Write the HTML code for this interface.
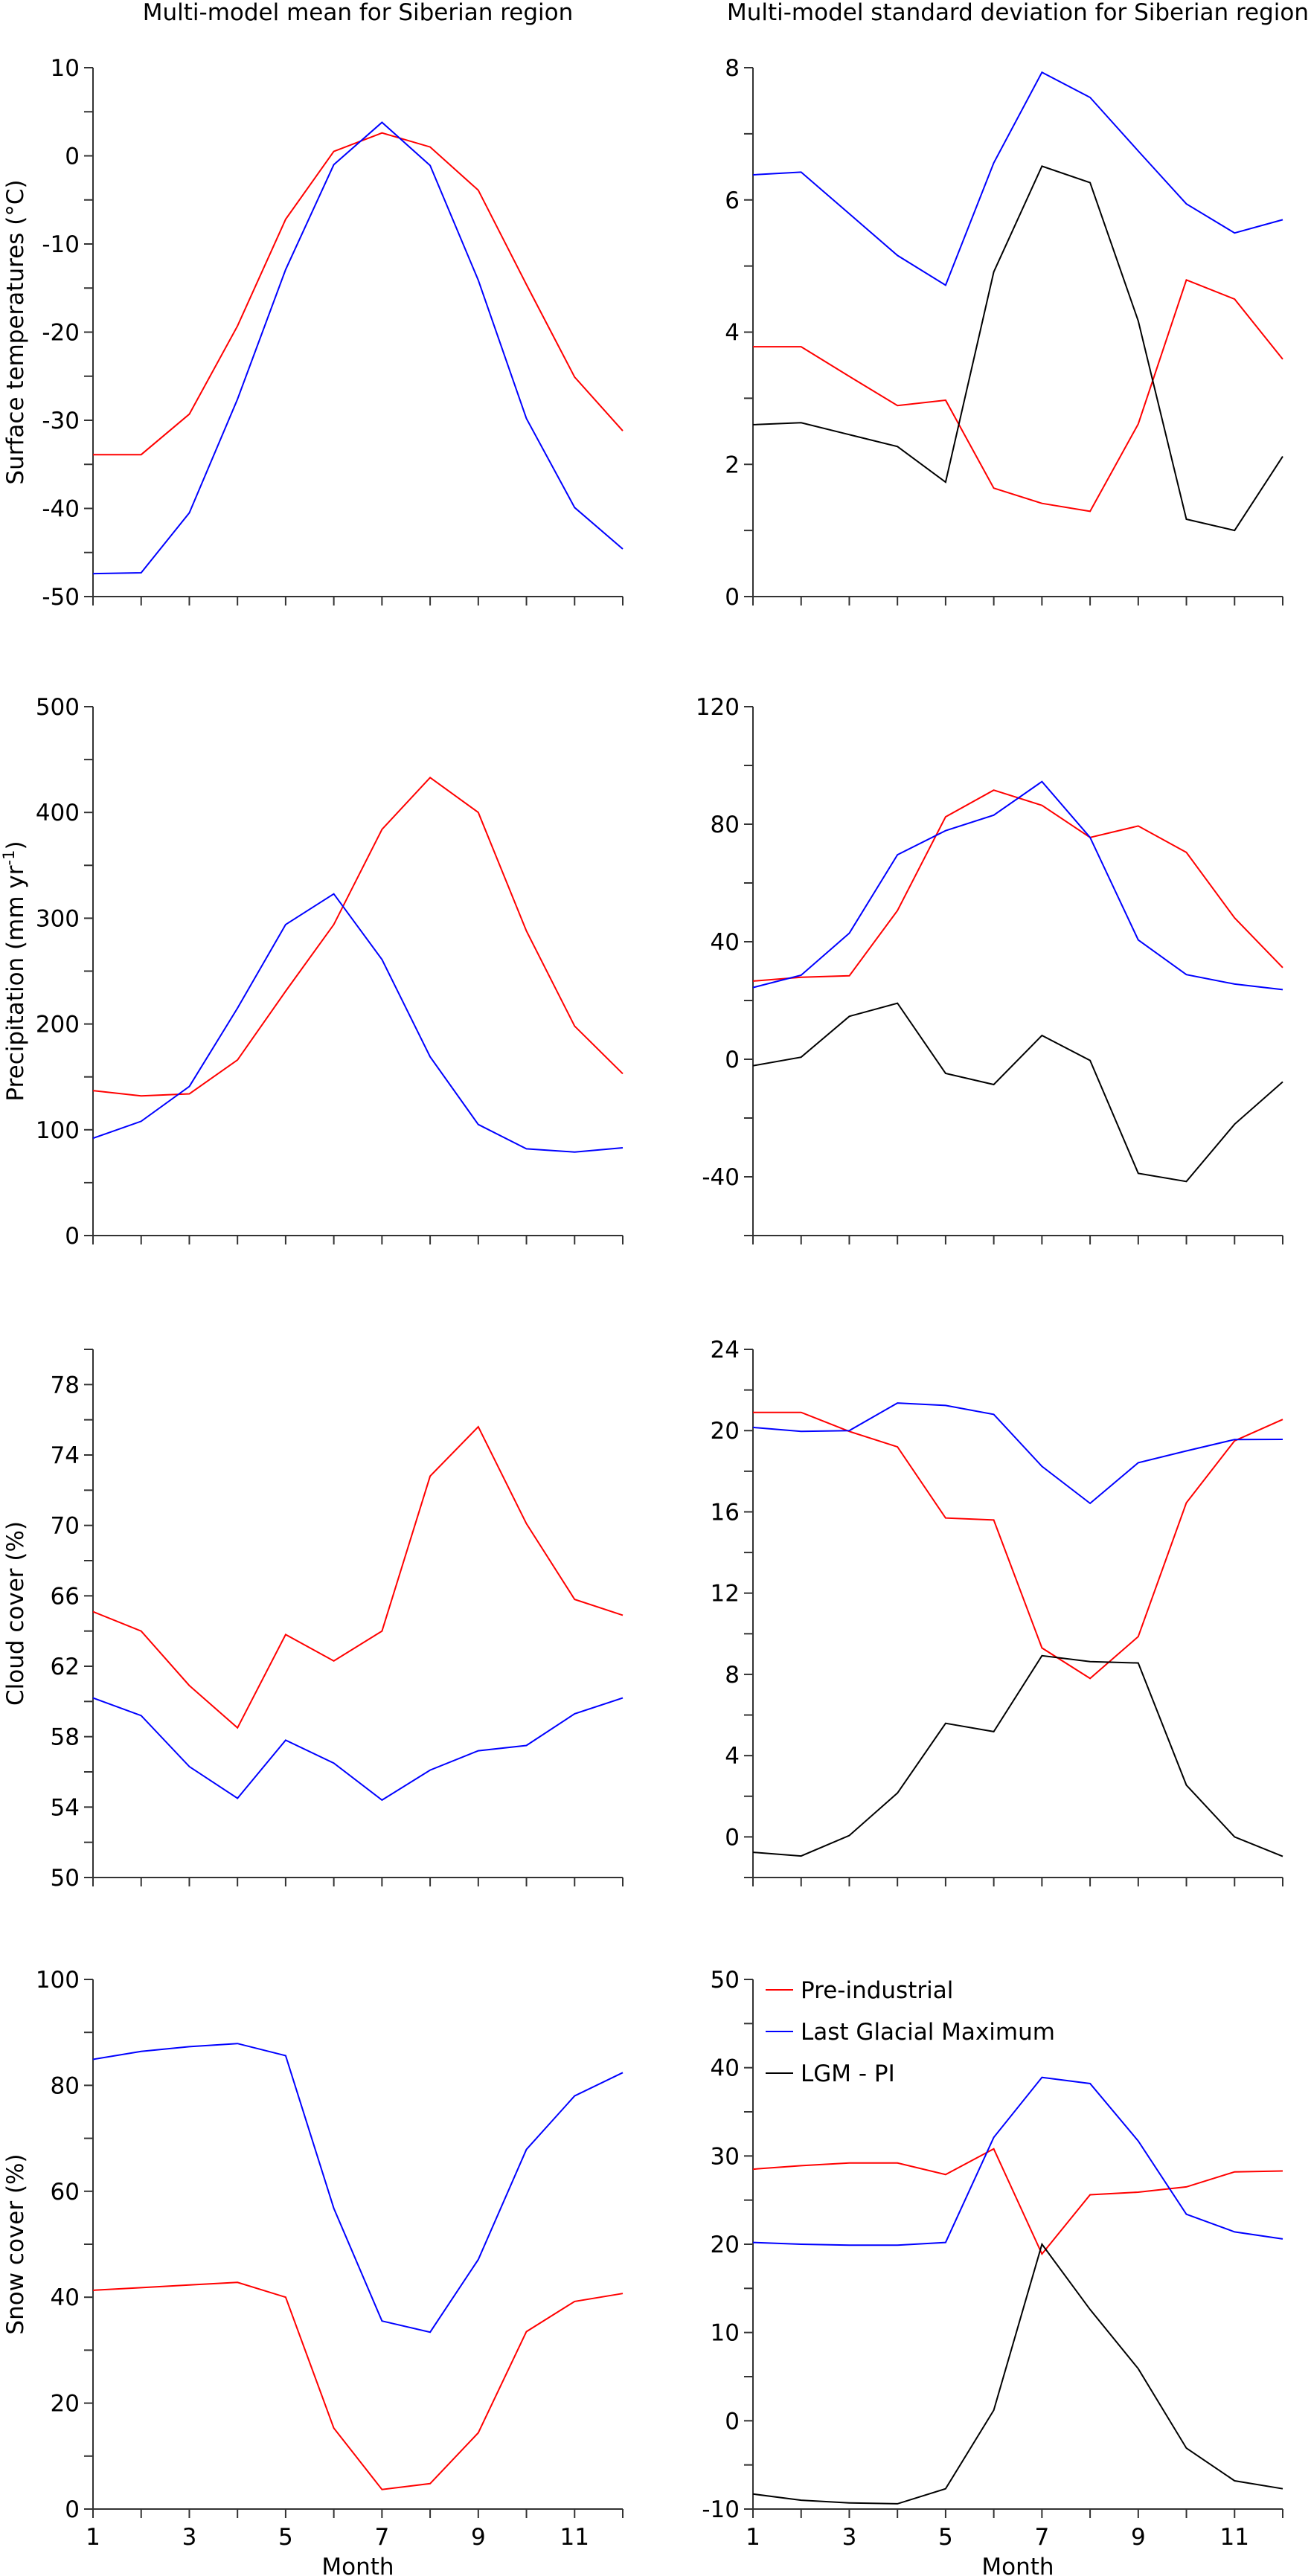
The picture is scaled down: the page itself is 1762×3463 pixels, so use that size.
<!DOCTYPE html>
<html><head><meta charset="utf-8"><style>
html,body{margin:0;padding:0;background:#fff;}
svg{display:block;font-family:"DejaVu Sans","Liberation Sans",sans-serif;}
</style></head><body>
<svg id="fig" width="1762" height="3463" viewBox="0 0 1762 3463" xmlns="http://www.w3.org/2000/svg">
<text x="481" y="27" font-size="31" text-anchor="middle">Multi-model mean for Siberian region</text>
<text x="1368" y="27" font-size="31" text-anchor="middle">Multi-model standard deviation for Siberian region</text>
<text x="481" y="3461" font-size="31" text-anchor="middle">Month</text>
<text x="1368" y="3461" font-size="31" text-anchor="middle">Month</text>
<g>
<line x1="1029" y1="2675" x2="1066" y2="2675" stroke="#ff0000" stroke-width="2"/>
<text x="1076" y="2686" font-size="31">Pre-industrial</text>
<line x1="1029" y1="2731" x2="1066" y2="2731" stroke="#0000ff" stroke-width="2"/>
<text x="1076" y="2742" font-size="31">Last Glacial Maximum</text>
<line x1="1029" y1="2787" x2="1066" y2="2787" stroke="#000" stroke-width="2"/>
<text x="1076" y="2798" font-size="31">LGM - PI</text>
</g>
</svg>
<script>
const months = [1,2,3,4,5,6,7,8,9,10,11,12];
const tempMeanPI  = [-33.9,-33.9,-29.3,-19.3,-7.2,0.5,2.6,1.0,-3.9,-14.6,-25.1,-31.2];
const tempMeanLGM = [-47.4,-47.3,-40.5,-27.6,-12.9,-1.0,3.8,-1.1,-14.1,-29.8,-39.9,-44.6];
const tempSdPI    = [3.78,3.78,3.33,2.89,2.97,1.64,1.41,1.29,2.61,4.79,4.50,3.59];
const tempSdLGM   = [6.38,6.42,5.79,5.16,4.71,6.56,7.93,7.55,6.74,5.94,5.50,5.70];
const tempSdDiff  = [2.60,2.63,2.45,2.27,1.73,4.91,6.51,6.26,4.17,1.17,1.00,2.12];
const precMeanPI  = [137,132,134,166,231,294,384,433,400,288,198,153];
const precMeanLGM = [92,108,141,215,294,323,261,169,105,82,79,83];
const precSdPI    = [26.6,27.9,28.4,50.6,82.5,91.6,86.4,75.5,79.4,70.4,48.1,31.2];
const precSdLGM   = [24.4,28.6,42.9,69.6,77.8,83.1,94.5,75.5,40.6,28.8,25.6,23.7];
const precSdDiff  = [-2.2,0.7,14.6,19.1,-4.8,-8.6,8.1,-0.4,-38.8,-41.6,-22.1,-7.7];
const cloudMeanPI  = [65.1,64.0,60.9,58.5,63.8,62.3,64.0,72.8,75.6,70.1,65.8,64.9];
const cloudMeanLGM = [60.2,59.2,56.3,54.5,57.8,56.5,54.4,56.1,57.2,57.5,59.3,60.2];
const cloudSdPI    = [20.9,20.9,19.96,19.2,15.7,15.6,9.3,7.8,9.86,16.45,19.5,20.55];
const cloudSdLGM   = [20.16,19.96,20.0,21.36,21.24,20.8,18.24,16.42,18.42,19.0,19.56,19.57];
const cloudSdDiff  = [-0.76,-0.94,0.07,2.16,5.59,5.18,8.92,8.63,8.56,2.55,0.0,-0.96];
const snowMeanPI  = [41.3,41.8,42.3,42.8,40.0,15.3,3.7,4.8,14.4,33.5,39.2,40.7];
const snowMeanLGM = [84.9,86.4,87.3,87.9,85.6,56.8,35.5,33.4,47.1,67.9,78.0,82.4];
const snowSdPI    = [28.5,28.9,29.2,29.2,27.9,30.8,18.9,25.6,25.9,26.5,28.2,28.3];
const snowSdLGM   = [20.2,20.0,19.9,19.9,20.2,32.1,38.9,38.2,31.7,23.4,21.4,20.6];
const snowSdDiff  = [-8.3,-9.0,-9.3,-9.4,-7.7,1.2,20.0,12.6,5.9,-3.1,-6.8,-7.7];
const xTickLabels = [1,3,5,7,9,11];

const NS = "http://www.w3.org/2000/svg";
const svg = document.getElementById('fig');
function mk(tag, attrs, parent){const e=document.createElementNS(NS,tag);for(const k in attrs)e.setAttribute(k,attrs[k]);(parent||svg).appendChild(e);return e;}

const rows=[[91,802],[950,1661],[1814,2524],[2661,3373]];
const cols=[[125,837],[1012,1724]];
const panels=[
 {r:0,c:0,name:'temp-mean',min:-50,max:10,major:[-50,-40,-30,-20,-10,0,10],minorStep:5,series:[tempMeanPI,tempMeanLGM],ytitle:'Surface temperatures (°C)'},
 {r:0,c:1,name:'temp-sd',min:0,max:8,major:[0,2,4,6,8],minorStep:1,series:[tempSdPI,tempSdLGM,tempSdDiff]},
 {r:1,c:0,name:'precip-mean',min:0,max:500,major:[0,100,200,300,400,500],minorStep:50,series:[precMeanPI,precMeanLGM],ytitle:'precip'},
 {r:1,c:1,name:'precip-sd',min:-60,max:120,major:[-40,0,40,80,120],minorStep:20,series:[precSdPI,precSdLGM,precSdDiff]},
 {r:2,c:0,name:'cloud-mean',min:50,max:80,major:[50,54,58,62,66,70,74,78],minorStep:2,series:[cloudMeanPI,cloudMeanLGM],ytitle:'Cloud cover (%)'},
 {r:2,c:1,name:'cloud-sd',min:-2,max:24,major:[0,4,8,12,16,20,24],minorStep:2,series:[cloudSdPI,cloudSdLGM,cloudSdDiff]},
 {r:3,c:0,name:'snow-mean',min:0,max:100,major:[0,20,40,60,80,100],minorStep:10,series:[snowMeanPI,snowMeanLGM],ytitle:'Snow cover (%)'},
 {r:3,c:1,name:'snow-sd',min:-10,max:50,major:[-10,0,10,20,30,40,50],minorStep:5,series:[snowSdPI,snowSdLGM,snowSdDiff]}
];
const colors=['#ff0000','#0000ff','#000000'];
const snames=['pi','lgm','diff'];
panels.forEach(p=>{
  const [top,bot]=rows[p.r],[left,right]=cols[p.c];
  const g=mk('g',{});
  
  
  const y=v=>bot-(v-p.min)/(p.max-p.min)*(bot-top);
  const x=m=>left+(m-1)/11*(right-left);
  // axes
  const ax=mk('path',{d:`M${left},${top}V${bot}H${right}`,fill:'none',stroke:'#333','stroke-width':2},g);
  
  
  // y ticks
  for(let v=p.min; v<=p.max+1e-9; v+=p.minorStep){
    mk('line',{x1:left-12,x2:left,y1:y(v),y2:y(v),stroke:'#333','stroke-width':2},g);
  }
  p.major.forEach(v=>{
    const t=mk('text',{x:left-18,y:y(v)+11,'font-size':31,'text-anchor':'end'},g);
    
    
    t.textContent=v;
  });
  // x ticks
  months.forEach(m=>mk('line',{x1:x(m),x2:x(m),y1:bot,y2:bot+12,stroke:'#333','stroke-width':2},g));
  if(p.r===3){
    xTickLabels.forEach(m=>{
      const t=mk('text',{x:x(m),y:bot+48,'font-size':31,'text-anchor':'middle'},g);
      
      
      t.textContent=m;
    });
  }
  // series
  p.series.forEach((s,i)=>{
    const d=s.map((v,k)=>(k?'L':'M')+x(months[k]).toFixed(1)+','+y(v).toFixed(1)).join('');
    const l=mk('path',{d:d,fill:'none',stroke:colors[i],'stroke-width':2,'stroke-linejoin':'miter'},g);
    
    
  });
  // y title
  if(p.ytitle){
    const cy=(top+bot)/2;
    const t=mk('text',{x:0,y:0,'font-size':31,'text-anchor':'middle',transform:`translate(31,${cy}) rotate(-90)`},g);
    
    
    if(p.ytitle==='precip'){
      t.appendChild(document.createTextNode('Precipitation (mm yr'));
      const s=mk('tspan',{'font-size':21,dy:-12},t);
      s.textContent='-1';
      const s2=mk('tspan',{dy:12},t);
      s2.textContent=')';
    } else t.textContent=p.ytitle;
  }
});
</script>
</body></html>
